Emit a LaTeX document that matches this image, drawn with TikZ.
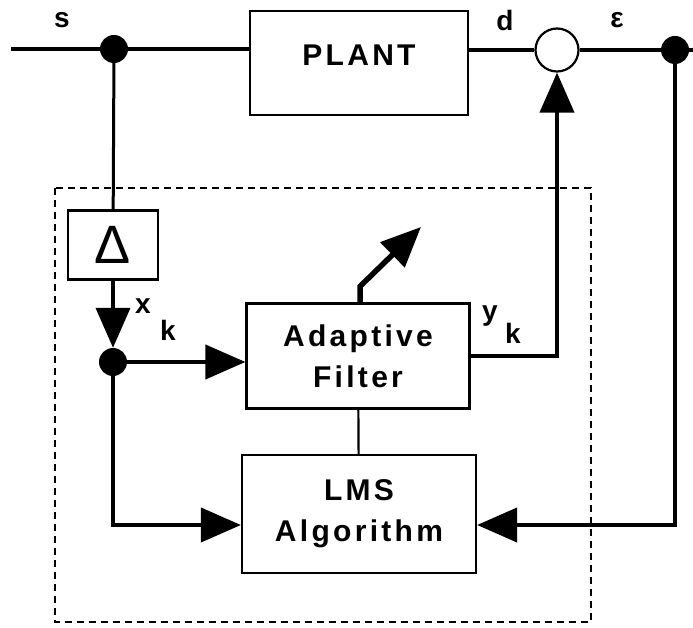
\documentclass[tikz,border=0pt]{standalone}
\usepackage{fontspec}
\setmainfont{Liberation Sans}
\newfontfamily\spaced[LetterSpace=11]{Liberation Sans}
\usepackage{tikz}
\usetikzlibrary{arrows.meta}
\tikzstyle{block} = [rectangle, draw=black, line width=2.2pt, align=center,
font=\spaced\bfseries\fontsize{30}{41}\selectfont]
\tikzstyle{junction} = [circle, fill=black, minimum size=28pt, inner sep=0pt]
\tikzstyle{summer} = [circle, draw=black, fill=white, line width=2.2pt, minimum size=43pt, inner sep=0pt]
\tikzstyle{lbl} = [font=\bfseries\fontsize{28}{28}\selectfont]
\tikzstyle{wire} = [line width=4pt]
\tikzstyle{arrow} = [line width=4pt,-{Triangle[length=40pt,width=34pt]}]
\tikzstyle{frame} = [line width=2pt, dash pattern=on 7pt off 5pt]

\begin{document}
\begin{tikzpicture}[x=1pt,y=-1pt]
                 \useasboundingbox (0,0) rectangle (693,628);
                 \draw [frame] (55,188) rectangle (591,622);
                 \coordinate (in) at (11,49);
                 \coordinate (out) at (693,50);
                 \coordinate (tune) at (421,227);
                 \node (j1) [junction] at (114,49) {};
                 \node (plant) [block, minimum width=218pt, minimum height=104pt,
                 text depth=16pt] at (359,63) {PLANT};
                 \node (sum) [summer] at (557,50) {};
                 \node (j2) [junction] at (675,50) {};
                 \node (delay) [block, minimum width=90pt, minimum height=69pt,
                 font=\fontsize{54}{54}\selectfont] at (113,245) {Δ};
                 \node (j3) [junction] at (113,362) {};
                 \node (filter) [block, minimum width=223pt, minimum height=105pt]
                 at (358,356) {Adaptive\\Filter};
                 \node (lms) [block, minimum width=234pt, minimum height=118pt]
                 at (359,514) {LMS\\Algorithm};
                 \node (s) [lbl] at (62,20) {s};
                 \node (d) [lbl] at (505,20) {d};
                 \node (eps) [lbl] at (617,20) {ε};
                 \node (x) [lbl] at (143,306) {x};
                 \node (xk) [lbl] at (168,330) {k};
                 \node (y) [lbl] at (490,316) {y};
                 \node (yk) [lbl] at (513,333) {k};
                 \draw [wire] (in) -- (j1) -- (j1 -| plant.west);
                 \draw [wire] (plant.east |- sum) -- (sum) -- (j2) -- (out);
                 \draw [wire, line width=3pt] (j1) -- (delay);
                 \draw [arrow] (delay) -- (j3);
                 \draw [arrow] (j3) -- (j3 -| filter.west);
                 \draw [arrow] (filter.east) -| (sum);
                 \draw [line width=2.2pt] (filter) -- (lms);
                 \draw [arrow] (j3) |- ([yshift=-11pt]lms.west);
                 \draw [arrow] (j2) |- ([yshift=-11pt]lms.east);
                 \draw [arrow, line width=5.5pt] ([xshift=2pt]filter.north) -- ++(0,-16) -- (tune);
             \end{tikzpicture}
\end{document}
